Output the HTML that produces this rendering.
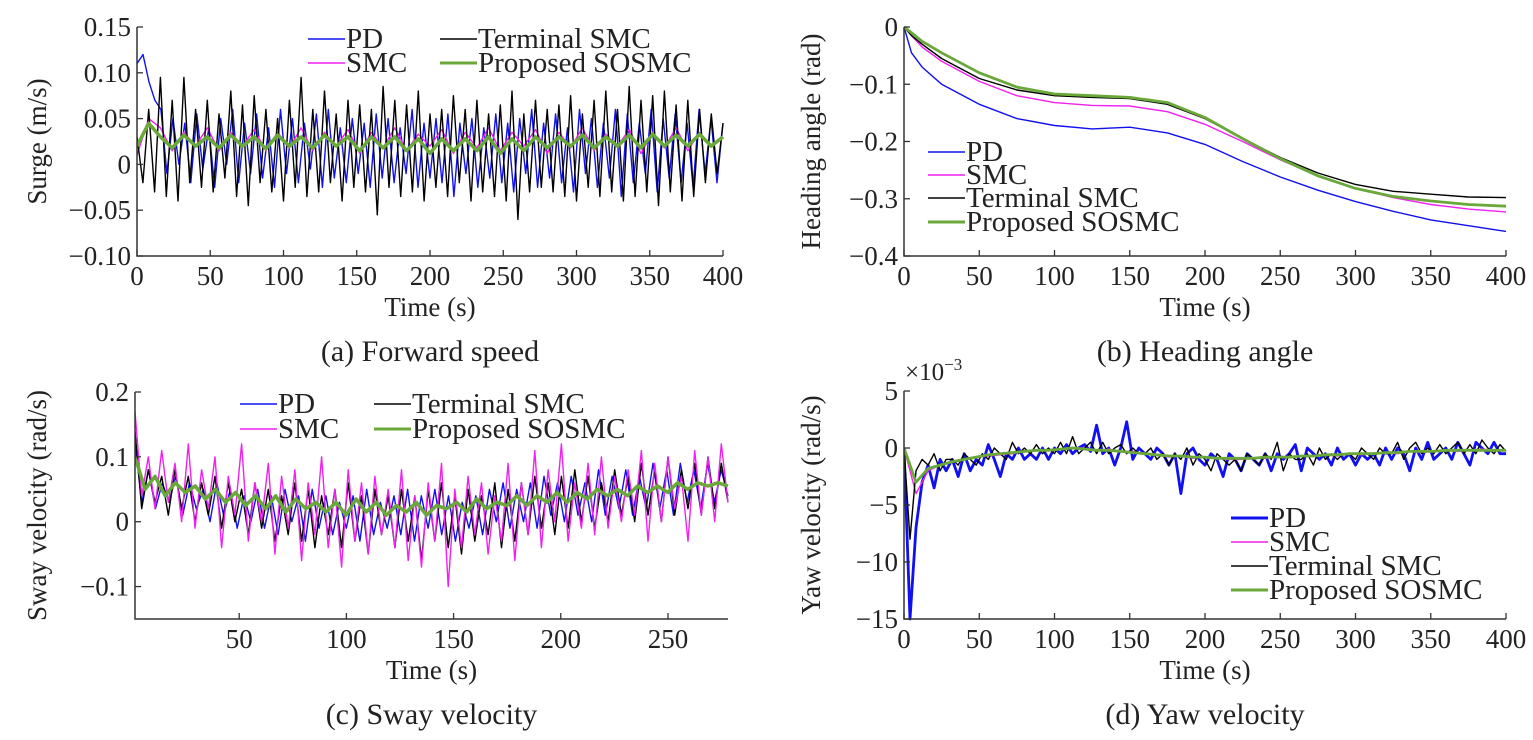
<!DOCTYPE html>
<html><head><meta charset="utf-8"><style>
html,body{margin:0;padding:0;background:#fff;}
svg{display:block;font-family:"Liberation Serif",serif;}
</style></head><body>
<svg id="fig" width="1533" height="740" viewBox="0 0 1533 740"></svg>
<script>
// ---------- data (a) surge, units 1e-3 m/s, uniform time 0..400 ----------
const surgePD = [110,120,90,70,60,-10,50,0,45,-20,55,-5,40,-25,50,0,60,-20,45,-10,55,-15,40,-25,60,-10,50,-20,45,-5,55,-25,60,-15,40,-20,50,-10,45,-25,55,-15,50,-20,40,-10,60,-25,45,-15,50,-20,55,-35,45,-10,50,-25,40,-15,55,-20,45,-30,50,-10,60,-25,45,-15,55,-20,40,-30,60,-10,50,-25,45,-15,60,-35,55,-20,45,-10,60,-30,50,-15,55,-20,45,-25,60,-10,50,-20,45];
const surgeSMC = [10,50,40,15,35,20,40,15,35,20,38,15,35,18,40,15,35,20,38,12,35,18,40,15,33,20,38,12,35,18,40,15,35,20,38,12,35,18,40,15,33,20,38,12,35,18,40,15,35,20,30];
const surgeTSMC = [30,-20,60,-30,95,-35,70,-40,95,-20,60,-25,70,-30,55,-15,80,-35,65,-45,75,-20,60,-30,50,-40,70,-25,95,-35,60,-30,80,-20,55,-40,70,-25,65,-30,60,-55,85,-25,70,-35,65,-30,80,-40,55,-25,60,-35,75,-20,60,-40,70,-30,55,-35,65,-40,80,-60,55,-30,70,-25,60,-30,65,-35,75,-40,55,-25,70,-35,80,-30,60,-40,85,-35,70,-30,75,-45,80,-30,65,-40,70,-35,60,-20,55,-10,45];
const surgeSOSMC = [20,45,30,18,32,20,30,18,32,20,30,17,32,20,30,18,32,20,30,15,30,18,30,15,28,12,28,15,28,15,30,12,28,15,30,18,30,20,32,18,30,20,32,18,33,20,32,20,33,20,30];
// ---------- data (b) heading, rad ----------
const headT = [0,5,12,25,50,75,100,125,150,175,200,225,250,275,300,325,350,375,400];
const headPD = [0,-0.045,-0.07,-0.1,-0.135,-0.16,-0.172,-0.178,-0.175,-0.185,-0.205,-0.235,-0.262,-0.285,-0.305,-0.322,-0.337,-0.347,-0.357];
const headSMC = [0,-0.015,-0.035,-0.06,-0.095,-0.12,-0.132,-0.137,-0.138,-0.148,-0.17,-0.2,-0.232,-0.26,-0.282,-0.298,-0.31,-0.318,-0.323];
const headTSMC = [0,-0.015,-0.03,-0.055,-0.09,-0.11,-0.12,-0.123,-0.125,-0.135,-0.16,-0.195,-0.228,-0.255,-0.275,-0.287,-0.292,-0.297,-0.298];
const headSOSMC = [0,-0.01,-0.025,-0.045,-0.08,-0.105,-0.117,-0.12,-0.123,-0.132,-0.158,-0.195,-0.23,-0.26,-0.282,-0.296,-0.304,-0.31,-0.313];
// ---------- data (c) sway, units 1e-3, uniform time 1.4..278 ----------
const swayPD = [120,30,80,20,60,30,70,10,60,20,50,0,60,10,50,-10,40,0,50,-10,40,-20,50,0,40,-30,50,-10,40,-20,30,-10,40,-30,50,-20,30,-10,40,-20,50,-30,40,-10,50,-20,40,-30,30,-10,40,-20,50,0,60,-10,50,0,60,-10,70,10,60,0,70,10,60,0,80,10,70,20,80,10,70,20,90,20,80,10,90,30,80,20,90,30,80,40];
const swayTSMC = [140,20,80,30,70,10,80,20,70,0,60,10,70,-10,60,0,50,-20,60,-10,50,-30,40,-20,60,-30,50,-40,40,-20,50,-40,60,-30,40,-50,50,-20,40,-40,50,-30,40,-60,50,-30,60,-40,40,-50,50,-30,40,-20,60,-40,50,-30,60,-20,70,-10,60,-20,70,-10,80,0,70,-10,60,0,80,10,70,0,90,10,80,0,100,10,80,20,90,10,100,20,90,30];
const swaySMC = [170,40,100,20,110,30,90,0,120,-10,80,20,100,-40,70,10,120,-30,60,0,90,-50,70,-10,80,-60,60,-20,100,-40,50,-70,80,-30,60,-50,70,-20,50,-40,80,-60,40,-70,60,-30,90,-100,50,-40,70,-20,60,-50,40,-30,90,-60,60,-20,110,-40,80,0,120,-30,60,-10,90,-20,100,-10,70,0,80,10,110,-30,90,0,100,20,70,-30,110,10,100,0,120,30];
const swaySOSMC = [100,50,70,40,60,45,55,35,50,30,45,25,40,20,40,15,35,20,30,15,30,10,35,15,30,10,25,15,30,10,25,20,30,15,35,20,30,25,40,25,40,30,45,30,45,35,50,40,50,40,55,45,55,45,60,50,60,55,60,55];
// ---------- data (d) yaw, units 1e-3 rad/s, uniform time 0..400 ----------
const yawPD = [0,-15,-7,-3,-1.5,-3.5,-1,-2,-1,-2.5,-0.5,-2,-1,-1.5,0.3,-1,-2.5,-0.5,-1,0,-1,-0.5,-1,0,-1,0,-0.5,0.3,-0.5,0,0.3,-0.3,2,-0.5,0,-1.5,0,2.3,-1,0,-0.5,-1,0,-0.5,-1.5,-0.5,-4,-0.5,0,-1,-1.5,-0.5,-1,-2.5,-0.5,-1,-2,-0.5,-1,-1.5,-0.5,-2,-0.5,-1,-0.5,0.3,-2,0,-0.5,-1,-0.5,-1.5,0,-1,-0.5,-1.5,-0.5,-1,-0.5,-1.5,0,-1,0,-0.5,-2,0,-1,0.5,-1,-0.5,0,-1,0.5,-0.5,-1.5,0.5,0,-0.5,0.5,-0.5,-0.5];
const yawSMC = [0,-4,-2,-1.5,-1.2,-1,-0.8,-0.7,-0.6,-0.5,-0.3,-0.2,-0.2,-0.1,0,0,-0.2,-0.1,-0.3,-0.3,-0.5,-0.6,-0.8,-0.7,-0.9,-0.8,-0.9,-1,-1,-0.9,-0.9,-0.8,-0.8,-0.7,-0.7,-0.6,-0.7,-0.5,-0.6,-0.5,-0.4,-0.5,-0.3,-0.4,-0.3,-0.2,-0.3,-0.2,-0.1,-0.2,-0.2];
const yawTSMC = [0,-8,-2,-1,-1.5,-0.5,-2,-1,-1,-1.5,-0.5,-1,-1.5,-0.5,-1,0,-0.5,-1,0.5,-0.5,0,-0.5,0.3,-0.5,0,-0.5,0.5,-0.5,1,-0.5,0,0.5,-0.5,0.5,-0.5,0,0.3,-0.5,0,-0.5,-0.5,0,-1,-0.5,-1.5,-0.5,-1,0,-1.5,-0.5,-1,-2,-0.5,-1,-1.5,-1,-2,-0.5,-1,-1.5,-0.5,-1,0.5,-2,-0.5,-1,-1,-0.5,-1.5,0,-1,-0.5,-1,-0.5,-0.5,-1,0,-0.5,-1,0,-0.5,-0.5,0.5,-1,0,0.5,-0.5,0,-0.5,0.3,-0.5,0,0.5,-0.5,0.3,-0.5,0.7,0,-0.5,0.3,-0.3];
const yawSOSMC = [0,-3,-1.8,-1.5,-1.2,-1,-0.8,-0.6,-0.5,-0.4,-0.3,-0.2,-0.2,-0.1,0,-0.1,-0.2,-0.2,-0.3,-0.4,-0.5,-0.6,-0.7,-0.7,-0.8,-0.8,-0.9,-0.9,-0.9,-0.9,-0.8,-0.8,-0.8,-0.7,-0.7,-0.6,-0.6,-0.5,-0.5,-0.5,-0.4,-0.4,-0.3,-0.3,-0.3,-0.2,-0.2,-0.2,-0.2,-0.2,-0.2];
// tick labels
const ticksA = ["0.15","0.10","0.05","0","\u22120.05","\u22120.10"];
const ticksB = ["0","\u22120.1","\u22120.2","\u22120.3","\u22120.4"];
const ticksC = ["0.2","0.1","0","\u22120.1"];
const ticksD = ["5","0","\u22125","\u221210","\u221215"];
const timeTicks = [0,50,100,150,200,250,300,350,400];
const timeTicksC = [50,100,150,200,250];

const C = {pd:"#1010f0", smc:"#f020f0", tsmc:"#000000", so:"#6aa83a"};
const NS="http://www.w3.org/2000/svg";
const svg=document.getElementById('fig');
function el(tag,attrs,parent){const e=document.createElementNS(NS,tag);for(const k in attrs)e.setAttribute(k,attrs[k]);(parent||svg).appendChild(e);return e;}
function txt(s,x,y,size,anchor,parent,name){const t=el('text',{x:x,y:y,'font-size':size,'text-anchor':anchor||'middle',fill:'#222'},parent);t.textContent=s;


return t;}

function makePlot(cfg){
  const g=el('g',{});
  
  
  const sx=v=>cfg.x0+(v-cfg.xmin)/(cfg.xmax-cfg.xmin)*(cfg.x1-cfg.x0);
  const sy=v=>cfg.y1+(v-cfg.ymin)/(cfg.ymax-cfg.ymin)*(cfg.y0-cfg.y1);
  const clip='clip-'+cfg.name;
  const cp=el('clipPath',{id:clip},g);el('rect',{x:cfg.x0,y:cfg.y0-2,width:cfg.x1-cfg.x0+2,height:cfg.y1-cfg.y0+4},cp);
  cfg.series.forEach(s=>{
    const n=s.v.length;
    const pts=s.v.map((v,i)=>{const t=s.t?s.t[i]:cfg.tmin+i*(cfg.tmax-cfg.tmin)/(n-1);return sx(t).toFixed(1)+','+sy(v*(s.k||1)).toFixed(1);}).join(' ');
    const p=el('polyline',{points:pts,fill:'none',stroke:s.c,'stroke-width':s.w||1.4,'stroke-linejoin':'round','clip-path':'url(#'+clip+')'},g);
    
    
  });
  const ax=el('path',{d:`M${cfg.x0},${cfg.y0} V${cfg.y1} H${cfg.x1}`,fill:'none',stroke:'#333','stroke-width':1.5},g);
  
  
  cfg.yt.forEach((lab,i)=>{const v=cfg.ytv[i];const y=sy(v);
    el('line',{x1:cfg.x0,x2:cfg.x0+6,y1:y,y2:y,stroke:'#333','stroke-width':1.3},g);
    txt(lab,cfg.x0-6,y+9,27,'end',g,'y-tick-label');});
  cfg.xt.forEach(v=>{const x=sx(v);
    el('line',{x1:x,x2:x,y1:cfg.y1,y2:cfg.y1-6,stroke:'#333','stroke-width':1.3},g);
    txt(String(v),x,cfg.y1+29,27,'middle',g,'x-tick-label');});
  txt('Time (s)',(cfg.x0+cfg.x1)/2,cfg.y1+60,27,'middle',g,'x-axis-title');
  const yl=txt(cfg.ylabel,0,0,27,'middle',g,'y-axis-title');
  yl.setAttribute('transform',`translate(${cfg.ylx},${(cfg.y0+cfg.y1)/2}) rotate(-90)`);
  txt(cfg.caption,(cfg.x0+cfg.x1)/2,cfg.y1+105,30,'middle',g,'subplot-caption');
  cfg.legend.forEach(L=>{
    const lg=el('g',{},g);
    
    
    el('line',{x1:L.x,x2:L.x+37,y1:L.y,y2:L.y,stroke:L.c,'stroke-width':L.w||1.6},lg);
    txt(L.t,L.x+38,L.y+9,29,'start',lg,'legend-label');
  });
}

makePlot({name:'plot-forward-speed',x0:137,x1:723,y0:27,y1:256,xmin:0,xmax:400,ymin:-0.10,ymax:0.15,tmin:0,tmax:400,
  yt:ticksA,ytv:[0.15,0.10,0.05,0,-0.05,-0.10],xt:timeTicks,ylabel:'Surge (m/s)',ylx:46,caption:'(a) Forward speed',
  series:[{v:surgePD,k:1e-3,c:C.pd,name:'series-pd'},{v:surgeSMC,k:1e-3,c:C.smc,name:'series-smc'},{v:surgeTSMC,k:1e-3,c:C.tsmc,name:'series-terminal-smc'},{v:surgeSOSMC,k:1e-3,c:C.so,w:3.5,name:'series-proposed-sosmc'}],
  legend:[{x:308,y:39,c:C.pd,t:'PD'},{x:308,y:63,c:C.smc,t:'SMC'},{x:440,y:39,c:C.tsmc,t:'Terminal SMC'},{x:440,y:63,c:C.so,t:'Proposed SOSMC',w:3}]});

makePlot({name:'plot-heading-angle',x0:904,x1:1506,y0:27,y1:256,xmin:0,xmax:400,ymin:-0.4,ymax:0,tmin:0,tmax:400,
  yt:ticksB,ytv:[0,-0.1,-0.2,-0.3,-0.4],xt:timeTicks,ylabel:'Heading angle (rad)',ylx:820,caption:'(b) Heading angle',
  series:[{t:headT,v:headPD,c:C.pd,name:'series-pd'},{t:headT,v:headSMC,c:C.smc,name:'series-smc'},{t:headT,v:headTSMC,c:C.tsmc,name:'series-terminal-smc'},{t:headT,v:headSOSMC,c:C.so,w:2.8,name:'series-proposed-sosmc'}],
  legend:[{x:928,y:152,c:C.pd,t:'PD'},{x:928,y:175,c:C.smc,t:'SMC'},{x:928,y:198,c:C.tsmc,t:'Terminal SMC'},{x:928,y:222,c:C.so,t:'Proposed SOSMC',w:3}]});

makePlot({name:'plot-sway-velocity',x0:135,x1:728,y0:392,y1:619,xmin:1.4,xmax:278,ymin:-0.15,ymax:0.2,tmin:1.4,tmax:278,
  yt:ticksC,ytv:[0.2,0.1,0,-0.1],xt:timeTicksC,ylabel:'Sway velocity (rad/s)',ylx:46,caption:'(c) Sway velocity',
  series:[{v:swayPD,k:1e-3,c:C.pd,name:'series-pd'},{v:swayTSMC,k:1e-3,c:C.tsmc,name:'series-terminal-smc'},{v:swaySMC,k:1e-3,c:C.smc,name:'series-smc'},{v:swaySOSMC,k:1e-3,c:C.so,w:3.5,name:'series-proposed-sosmc'}],
  legend:[{x:240,y:404,c:C.pd,t:'PD'},{x:240,y:429,c:C.smc,t:'SMC'},{x:374,y:404,c:C.tsmc,t:'Terminal SMC'},{x:374,y:429,c:C.so,t:'Proposed SOSMC',w:3}]});

makePlot({name:'plot-yaw-velocity',x0:904,x1:1506,y0:391,y1:619,xmin:0,xmax:400,ymin:-15,ymax:5,tmin:0,tmax:400,
  yt:ticksD,ytv:[5,0,-5,-10,-15],xt:timeTicks,ylabel:'Yaw velocity (rad/s)',ylx:820,caption:'(d) Yaw velocity',
  series:[{v:yawPD,c:C.pd,w:2.8,name:'series-pd'},{v:yawSMC,c:C.smc,name:'series-smc'},{v:yawTSMC,c:C.tsmc,name:'series-terminal-smc'},{v:yawSOSMC,c:C.so,w:2.8,name:'series-proposed-sosmc'}],
  legend:[{x:1231,y:518,c:C.pd,t:'PD',w:3},{x:1231,y:542,c:C.smc,t:'SMC'},{x:1231,y:566,c:C.tsmc,t:'Terminal SMC'},{x:1231,y:590,c:C.so,t:'Proposed SOSMC',w:3}]});

const ex=el('text',{x:905,y:380,'font-size':25,fill:'#222'});


ex.innerHTML='\u00d710<tspan dy="-10" font-size="17">\u22123</tspan>';
</script>
</body></html>
